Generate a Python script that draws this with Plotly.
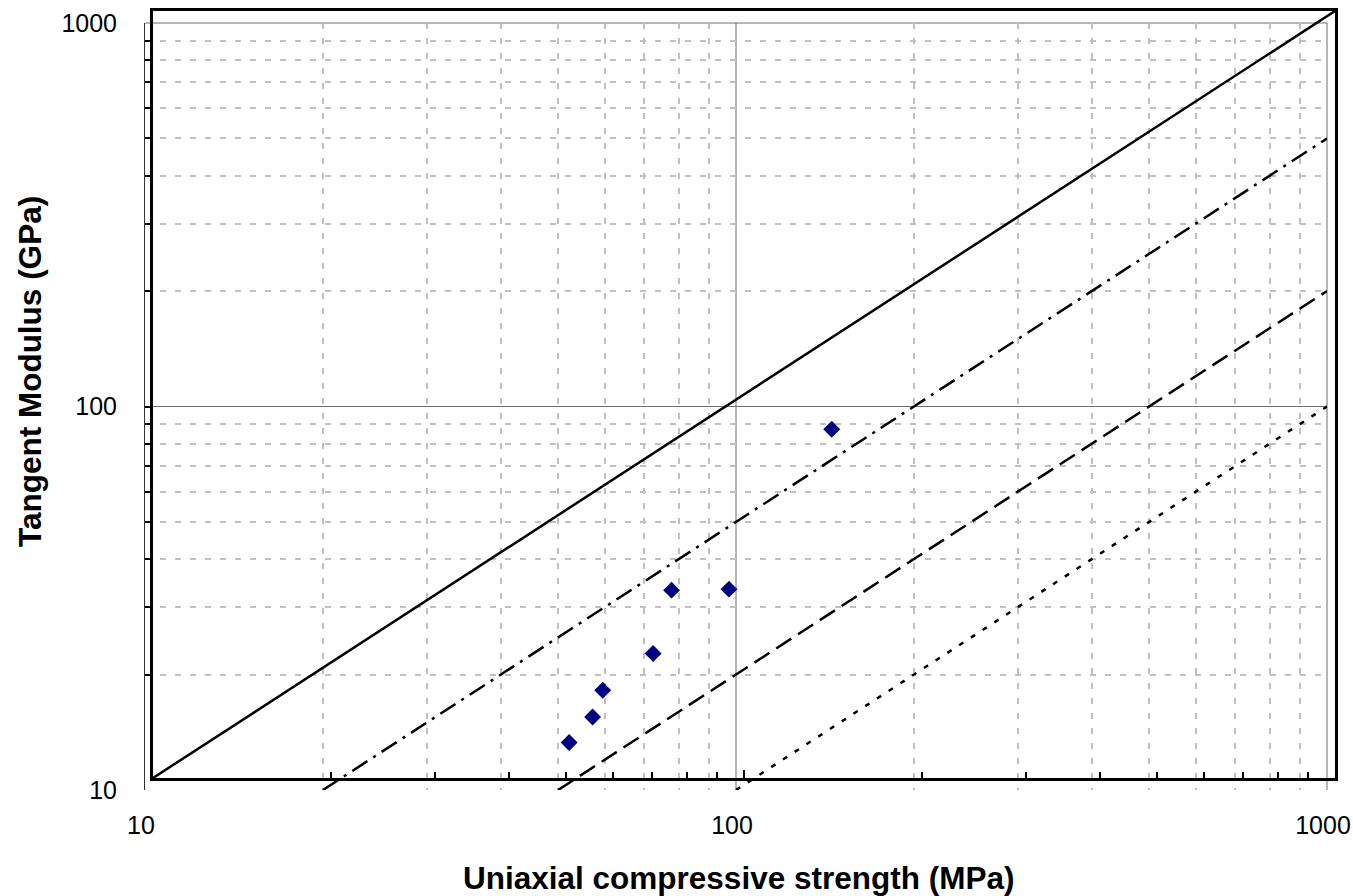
import plotly.graph_objects as go

# ---- data ----
ucs_mpa = [52.2, 57.2, 59.5, 72.4, 77.8, 97.3, 145.2]
tangent_modulus_gpa = [13.3, 15.5, 18.2, 22.7, 33.2, 33.4, 87.2]

# modulus-ratio guide lines
mr1000_x = [10, 1000]
mr1000_y = [10, 1000]
mr500_x = [20, 1000]
mr500_y = [10, 500]
mr200_x = [50, 1000]
mr200_y = [10, 200]
mr100_x = [100, 1000]
mr100_y = [10, 100]

major_ticks = [10, 100, 1000]
major_text = ["10", "100", "1000"]
minor_ticks = [20, 30, 40, 50, 60, 70, 80, 90, 200, 300, 400, 500, 600, 700, 800, 900]

W, H = 1353, 896
FA = dict(l=145, r=1327, t=23, b=790)   # grid / label frame
FB = dict(l=153, r=1335, t=11, b=778)   # bordered frame


def dx(f):
    return [f["l"] / W, f["r"] / W]


def dy(f):
    return [(H - f["b"]) / H, (H - f["t"]) / H]


FONT = "Liberation Sans, Arial, sans-serif"
GRID = "#c0c0c0"

fig = go.Figure()

fig.add_trace(go.Scatter(x=mr500_x, y=mr500_y, mode="lines", xaxis="x", yaxis="y",
                         line=dict(color="black", width=2.5, dash="18px,7px,3px,7px"),
                         showlegend=False, hoverinfo="skip"))
fig.add_trace(go.Scatter(x=mr200_x, y=mr200_y, mode="lines", xaxis="x", yaxis="y",
                         line=dict(color="black", width=2.5, dash="18px,8px"),
                         showlegend=False, hoverinfo="skip"))
fig.add_trace(go.Scatter(x=mr100_x, y=mr100_y, mode="lines", xaxis="x", yaxis="y",
                         line=dict(color="black", width=2.5, dash="5px,9px"),
                         showlegend=False, hoverinfo="skip"))
fig.add_trace(go.Scatter(x=ucs_mpa, y=tangent_modulus_gpa, mode="markers", xaxis="x", yaxis="y",
                         marker=dict(symbol="diamond", size=13, color="#000080",
                                     line=dict(width=0)),
                         showlegend=False, cliponaxis=False))
fig.add_trace(go.Scatter(x=mr1000_x, y=mr1000_y, mode="lines", xaxis="x2", yaxis="y2",
                         line=dict(color="black", width=2.5),
                         showlegend=False, hoverinfo="skip"))

shape_line = dict(color="#6e6e6e", width=1)
fig.update_layout(
    width=W, height=H, autosize=False,
    margin=dict(l=0, r=0, t=0, b=0, pad=0),
    paper_bgcolor="white", plot_bgcolor="rgba(0,0,0,0)",
    font=dict(family=FONT, color="black"),
    xaxis=dict(type="log", range=[1, 3], domain=dx(FA), anchor="y", automargin=False,
               tickmode="array", tickvals=major_ticks, ticktext=major_text,
               tickfont=dict(size=25, family=FONT, color="black"),
               ticks="", showgrid=False, zeroline=False, showline=False,
               ticklabelstandoff=18, ticklabelshift=-4,
               minor=dict(tickmode="array", tickvals=minor_ticks, showgrid=True,
                          gridcolor=GRID, gridwidth=2, griddash="6px,9px", ticks="")),
    yaxis=dict(type="log", range=[1, 3], domain=dy(FA), anchor="x", automargin=False,
               tickmode="array", tickvals=major_ticks, ticktext=major_text,
               tickfont=dict(size=25, family=FONT, color="black"),
               ticks="inside", ticklen=8, tickwidth=2, tickcolor="black",
               showgrid=False, zeroline=False, showline=True, linecolor="#333333", linewidth=1,
               ticklabelstandoff=22,
               minor=dict(tickmode="array", tickvals=minor_ticks, showgrid=True,
                          gridcolor=GRID, gridwidth=2, griddash="6px,9px",
                          ticks="inside", ticklen=6, tickwidth=1.5, tickcolor="black")),
    xaxis2=dict(type="log", range=[1, 3], domain=dx(FB), anchor="y2", automargin=False,
                tickmode="array", tickvals=major_ticks, showticklabels=False,
                ticks="inside", ticklen=8, tickwidth=2, tickcolor="black",
                showgrid=False, zeroline=False,
                showline=True, mirror=True, linecolor="black", linewidth=3,
                minor=dict(tickmode="array", tickvals=minor_ticks, showgrid=False,
                           ticks="inside", ticklen=6, tickwidth=2, tickcolor="black")),
    yaxis2=dict(type="log", range=[1, 3], domain=dy(FB), anchor="x2", automargin=False,
                showticklabels=False, ticks="", showgrid=False, zeroline=False,
                showline=True, mirror=True, linecolor="black", linewidth=3),
    shapes=[
        dict(type="line", xref="x domain", yref="y domain", x0=0.5, x1=0.5, y0=0, y1=1,
             line=shape_line, layer="below"),
        dict(type="line", xref="x domain", yref="y domain", x0=0, x1=1, y0=0.5, y1=0.5,
             line=shape_line, layer="below"),
        dict(type="line", xref="x domain", yref="y domain", x0=0, x1=1, y0=1, y1=1,
             line=shape_line, layer="below"),
        dict(type="line", xref="x domain", yref="y domain", x0=1, x1=1, y0=0, y1=1,
             line=shape_line, layer="below"),
    ],
    annotations=[
        dict(text="<b>Uniaxial compressive strength (MPa)</b>", xref="paper", yref="paper",
             x=739 / W, y=(H - 878) / H, xanchor="center", yanchor="middle",
             showarrow=False, font=dict(size=31.5, family=FONT, color="black")),
        dict(text="<b>Tangent Modulus (GPa)</b>", xref="paper", yref="paper",
             x=30 / W, y=(H - 372) / H, xanchor="center", yanchor="middle",
             textangle=-90, showarrow=False, font=dict(size=31.5, family=FONT, color="black")),
    ],
)

fig.write_html("out.html")
